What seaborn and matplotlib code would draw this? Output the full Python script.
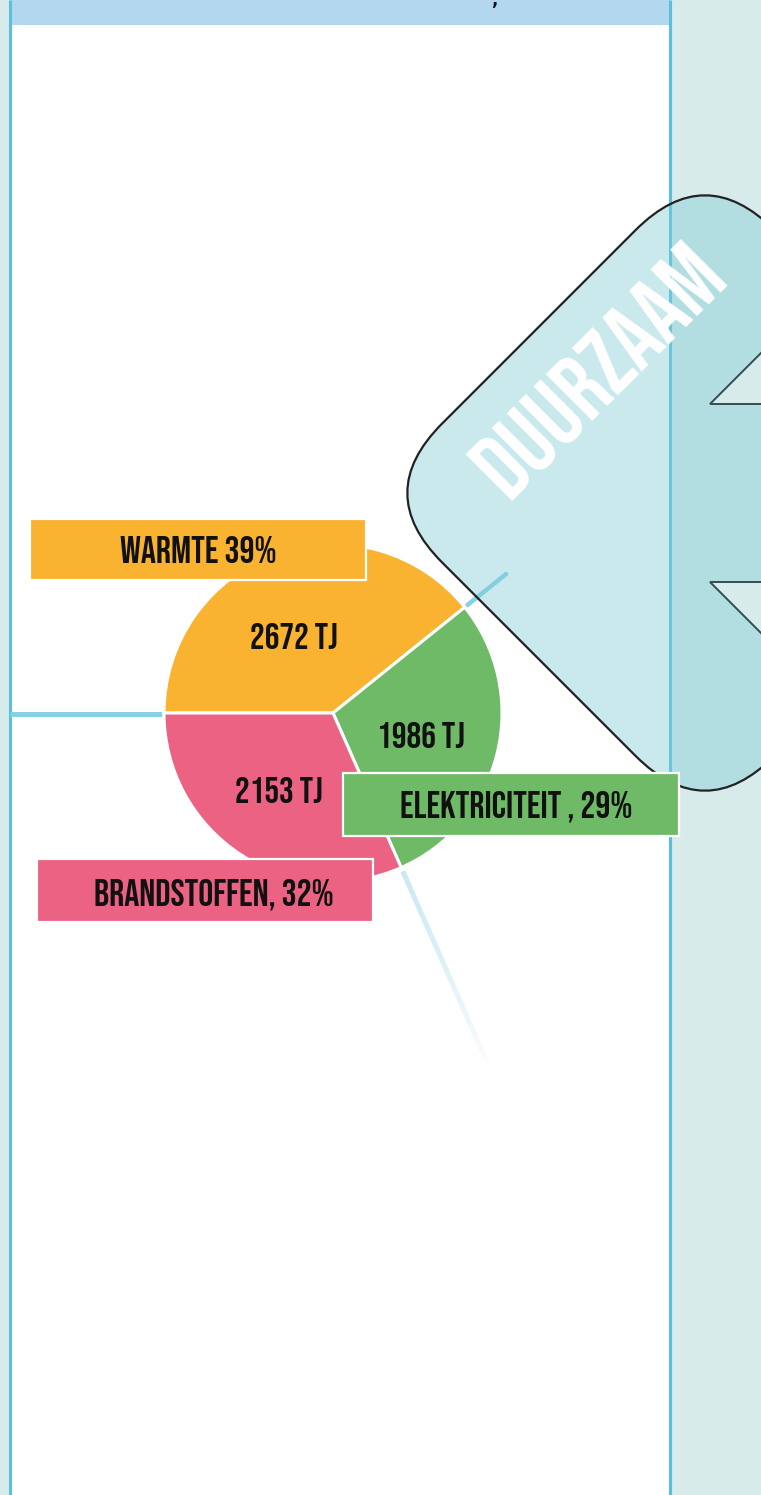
import numpy as np
import matplotlib
matplotlib.use("Agg")
import matplotlib.pyplot as plt
import seaborn as sns
from matplotlib.patches import Rectangle, FancyBboxPatch, Polygon
from matplotlib.collections import LineCollection
from matplotlib.transforms import Affine2D

# ---- data ----
categories = ["WARMTE", "ELEKTRICITEIT", "BRANDSTOFFEN"]
values_tj = [2672, 1986, 2153]
box_labels = ["WARMTE 39%", "ELEKTRICITEIT , 29%", "BRANDSTOFFEN, 32%"]
value_labels = ["2672 TJ", "1986 TJ", "2153 TJ"]
slice_colors = ["#F9B330", "#6FBA67", "#EC6283"]
badge_text = "DUURZAAM"

sns.set_theme(style="white")
FONT = ["Bebas Neue", "Oswald", "Barlow Condensed", "DejaVu Sans"]
plt.rcParams["font.family"] = FONT

W, H = 761, 1495
fig = plt.figure(figsize=(W / 100, H / 100), dpi=100, facecolor="#D7EBEA")
ax = fig.add_axes([0, 0, 1, 1])
ax.set_facecolor("#D7EBEA")

# pie (screen y grows downward: inverted axis)
cx, cy, R = 333, 713, 169
wedges, _ = ax.pie(values_tj, colors=slice_colors, startangle=180, counterclock=True,
                   center=(cx, cy), radius=R,
                   wedgeprops=dict(edgecolor="white", linewidth=2.2, zorder=5))

ax.set_xlim(0, W)
ax.set_ylim(H, 0)
ax.set_aspect("equal")
ax.axis("off")

# panel background
ax.add_patch(Rectangle((10, 0), 660, H, facecolor="white", edgecolor="none", zorder=0))
ax.add_patch(Rectangle((10, 0), 660, 25, facecolor="#B3D7EE", edgecolor="none", zorder=1))
ax.plot([10, 10], [0, H], color="#5BC0DE", lw=2.2, zorder=2, solid_capstyle="butt")
ax.plot([670, 670], [0, H], color="#5BC0DE", lw=2.2, zorder=2, solid_capstyle="butt")
ax.text(494, 5, ",", fontsize=12, color="#111", ha="center", va="baseline",
        family=["DejaVu Sans"], fontweight="bold", zorder=3)

# leader lines derived from wedge boundaries
ax.plot([10, cx - R - 2], [cy + 1, cy + 1], color="#86D1E7", lw=3.6, zorder=3,
        solid_capstyle="butt")
a1 = np.deg2rad(wedges[0].theta2)
ax.plot([cx + (R + 3) * np.cos(a1), cx + 222 * np.cos(a1)],
        [cy + (R + 3) * np.sin(a1), cy + 222 * np.sin(a1)],
        color="#86D1E7", lw=3.2, zorder=3, solid_capstyle="round")
a2 = np.deg2rad(wedges[1].theta2)
rr = np.linspace(R + 4, 388, 80)
xs, ys = cx + rr * np.cos(a2), cy + rr * np.sin(a2)
segs = [[(xs[i], ys[i]), (xs[i + 1], ys[i + 1])] for i in range(len(rr) - 1)]
alphas = np.linspace(1.0, 0.0, len(segs)) ** 0.8
cols = [(0.78, 0.91, 0.95, a) for a in alphas]
ax.add_collection(LineCollection(segs, colors=cols, linewidths=3.6, zorder=3,
                                 capstyle="butt"))

# rotated rounded-square badge
bx, by, side, rad = 705, 493, 470, 98
badge = FancyBboxPatch((bx - side / 2, by - side / 2), side, side,
                       boxstyle=f"round,pad=0,rounding_size={rad}",
                       facecolor=(0.51, 0.80, 0.845, 0.43), edgecolor="#222",
                       linewidth=1.6, zorder=8)
badge.set_transform(Affine2D().rotate_deg_around(bx, by, 45) + ax.transData)
ax.add_patch(badge)
ax.add_patch(Polygon([(710, 404), (800, 314), (800, 404)], closed=True,
                     facecolor="#D7EBEA", edgecolor="#2f4f52", lw=1.4, zorder=9))
ax.add_patch(Polygon([(710, 582), (800, 672), (800, 582)], closed=True,
                     facecolor="#D7EBEA", edgecolor="#2f4f52", lw=1.4, zorder=9))
ax.text(619, 391, badge_text, rotation=45, rotation_mode="anchor", color="white",
        fontsize=68, ha="center", va="baseline", zorder=10)

# value labels inside slices (x centre, baseline y)
val_pos = [(294, 649), (421, 748), (279, 803)]
for (tx, ty), t in zip(val_pos, value_labels):
    ax.text(tx, ty, t, fontsize=26.5, color="#111",
            ha="center", va="baseline", zorder=12)

# category boxes
boxes = [(30, 519, 336, 61), (343, 773, 336, 63), (37, 859, 336, 63)]
text_pos = [(198, 563), (516, 818), (214, 906)]
for (x0, y0, w, h), col, (tx, ty), t in zip(boxes, slice_colors, text_pos, box_labels):
    ax.add_patch(Rectangle((x0, y0), w, h, facecolor=col, edgecolor="white",
                           linewidth=1.6, zorder=13))
    ax.text(tx, ty, t, fontsize=27, color="#111",
            ha="center", va="baseline", zorder=14)

fig.savefig("out.png", dpi=100, facecolor=fig.get_facecolor())
